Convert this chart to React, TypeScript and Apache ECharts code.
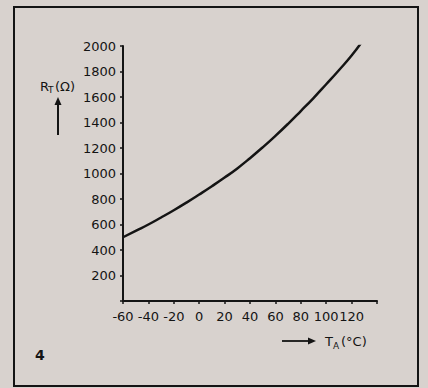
import React, { useEffect, useRef } from "react";
import * as echarts from "echarts";

const temps = [-60, -50, -40, -30, -20, -10, 0, 10, 20, 30, 40, 50, 60, 70, 80, 90, 100, 110, 120, 129];
const resist = [500, 550, 600, 655, 712, 772, 835, 900, 968, 1040, 1120, 1205, 1295, 1390, 1490, 1592, 1700, 1810, 1925, 2045];
const xLabelMax = 120;

const INK = "#141414";
const FONT = "DejaVu Sans";

export default function App() {
  const ref = useRef<HTMLDivElement>(null);
  useEffect(() => {
    const chart = echarts.init(ref.current!, null, { renderer: "svg" });
    chart.setOption({
      animation: false,
      backgroundColor: "#d8d2ce",
      grid: { left: 123, top: 46, width: 254, height: 255 },
      xAxis: {
        type: "value",
        min: -60,
        max: 140,
        interval: 20,
        axisLine: { onZero: false, lineStyle: { color: INK, width: 2 } },
        axisTick: { show: true, length: 3, lineStyle: { color: INK, width: 1.5 } },
        axisLabel: {
          margin: 9,
          fontSize: 13,
          fontFamily: FONT,
          color: INK,
          formatter: (v: number) => (v <= xLabelMax ? String(v) : ""),
        },
        splitLine: { show: false },
      },
      yAxis: {
        type: "value",
        min: 0,
        max: 2000,
        interval: 200,
        axisLine: { show: true, onZero: false, lineStyle: { color: INK, width: 2 } },
        axisTick: { show: true, length: 3, lineStyle: { color: INK, width: 1.5 } },
        axisLabel: {
          margin: 7,
          fontSize: 13,
          fontFamily: FONT,
          color: INK,
          formatter: (v: number) => (v === 0 ? "" : String(v)),
        },
        splitLine: { show: false },
      },
      series: [
        {
          type: "line",
          data: temps.map((t, i) => [t, resist[i]]),
          smooth: true,
          showSymbol: false,
          lineStyle: { color: INK, width: 2.5 },
        },
      ],
      graphic: [
        {
          type: "rect",
          shape: { x: 14, y: 7, width: 404, height: 379 },
          style: { fill: "none", stroke: INK, lineWidth: 2 },
        },
        { type: "text", x: 40, y: 86, style: { text: "R", fontSize: 13, fontFamily: FONT, fill: INK, verticalAlign: "middle" } },
        { type: "text", x: 48, y: 90, style: { text: "T", fontSize: 9, fontFamily: FONT, fill: INK, verticalAlign: "middle" } },
        { type: "text", x: 55, y: 86, style: { text: "(Ω)", fontSize: 13, fontFamily: FONT, fill: INK, verticalAlign: "middle" } },
        { type: "line", shape: { x1: 58, y1: 135, x2: 58, y2: 103 }, style: { stroke: INK, lineWidth: 2 } },
        { type: "polygon", shape: { points: [[54.5, 105], [61.5, 105], [58, 97]] }, style: { fill: INK } },
        { type: "line", shape: { x1: 282, y1: 341, x2: 309, y2: 341 }, style: { stroke: INK, lineWidth: 1.8 } },
        { type: "polygon", shape: { points: [[308, 337.5], [308, 344.5], [316, 341]] }, style: { fill: INK } },
        { type: "text", x: 325, y: 341, style: { text: "T", fontSize: 13, fontFamily: FONT, fill: INK, verticalAlign: "middle" } },
        { type: "text", x: 333, y: 346, style: { text: "A", fontSize: 9, fontFamily: FONT, fill: INK, verticalAlign: "middle" } },
        { type: "text", x: 341, y: 341, style: { text: "(°C)", fontSize: 13, fontFamily: FONT, fill: INK, verticalAlign: "middle" } },
        { type: "text", x: 35, y: 355, style: { text: "4", fontSize: 14, fontWeight: "bold", fontFamily: FONT, fill: INK, verticalAlign: "middle" } },
      ],
    });
    return () => chart.dispose();
  }, []);
  return (
    <div
      ref={ref}
      style={{ position: "fixed", left: 0, top: 0, width: 428, height: 388, background: "#d8d2ce" }}
    />
  );
}
